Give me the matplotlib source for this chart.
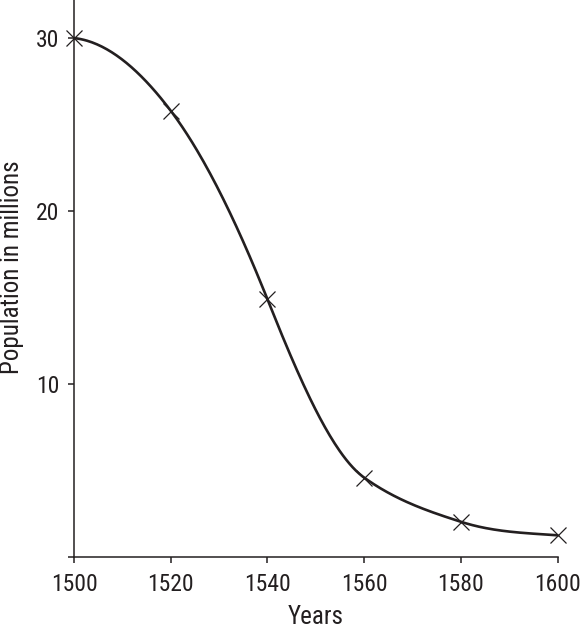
#!/usr/bin/env python3
"""Population decline curve, 1500-1600."""

import numpy as np
import matplotlib
matplotlib.use("Agg")
import matplotlib.pyplot as plt
from matplotlib import font_manager as fm

# data
YEARS = [1500, 1520, 1540, 1560, 1580, 1600]
POPULATION = [30.0, 25.8, 14.9, 4.6, 2.05, 1.27]
# slope of the drawn curve at each point (millions per year)
SLOPES = [-0.03, -0.37, -0.70, -0.20, -0.09, -0.02]
X_TICKS = [1500, 1520, 1540, 1560, 1580, 1600]
Y_TICKS = [0, 10, 20, 30]
Y_TICK_LABELS = ["", "10", "20", "30"]

INK = "#231f20"

# the reference uses a condensed sans; take the first narrow face that exists
installed = {f.name for f in fm.fontManager.ttflist}
narrow = [f.name for f in fm.fontManager.ttflist
          if "Narrow" in f.name or "Condensed" in f.name]
family = None
for cand in ["Roboto Condensed", "Liberation Sans Narrow", "DejaVu Sans Condensed"]:
    if cand in installed:
        family = cand
        break
if family is None and narrow:
    family = narrow[0]
if family is None:
    family = "Roboto"
plt.rcParams["font.family"] = [family, "DejaVu Sans"]


def hermite_curve(x, y, d, n=60):
    """Cubic Hermite pieces through the points with the given tangents."""
    xs_all, ys_all = [], []
    for i in range(len(x) - 1):
        h = x[i + 1] - x[i]
        t = np.linspace(0, 1, n)
        h00 = 2 * t ** 3 - 3 * t ** 2 + 1
        h10 = t ** 3 - 2 * t ** 2 + t
        h01 = -2 * t ** 3 + 3 * t ** 2
        h11 = t ** 3 - t ** 2
        xs_all.append(x[i] + t * h)
        ys_all.append(h00 * y[i] + h10 * h * d[i] + h01 * y[i + 1] + h11 * h * d[i + 1])
    return np.concatenate(xs_all), np.concatenate(ys_all)


fig = plt.figure(figsize=(5.8, 6.3), dpi=100)
ax = fig.add_axes([0.1276, 0.1154, 0.834, 0.8846])

xs, ys = hermite_curve(YEARS, POPULATION, SLOPES)
ax.plot(xs, ys, color=INK, lw=1.9, solid_capstyle="round")
ax.plot(YEARS, POPULATION, ls="none", marker="x", ms=12, mew=0.9,
        color=INK, clip_on=False)

ax.set_xlim(1500, 1600)
ax.set_ylim(0, 32.2)
ax.set_xticks(X_TICKS)
ax.set_yticks(Y_TICKS)
ax.set_yticklabels(Y_TICK_LABELS)

for side in ("top", "right"):
    ax.spines[side].set_visible(False)
for side in ("left", "bottom"):
    ax.spines[side].set_color(INK)
    ax.spines[side].set_linewidth(1.1)

ax.tick_params(axis="both", colors=INK, labelsize=17, length=4.5,
               width=1.1, direction="out")
ax.tick_params(axis="x", pad=7)
ax.tick_params(axis="y", pad=6)

ax.set_xlabel("Years", fontsize=18, color=INK, labelpad=6)
ax.set_ylabel("Population in millions", fontsize=18, color=INK)
ax.yaxis.set_label_coords(-0.103, 0.521)

fig.savefig("out.png", dpi=100)
